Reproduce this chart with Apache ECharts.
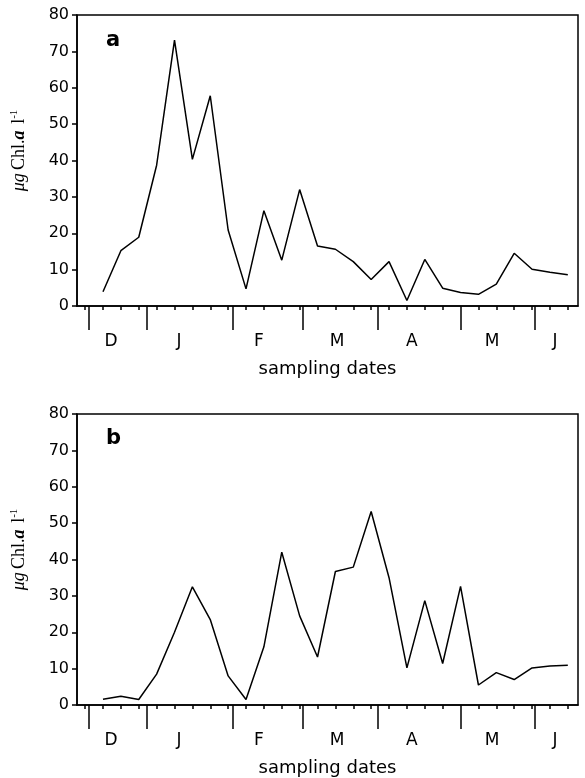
<!DOCTYPE html>
<html>
<head>
<meta charset="utf-8">
<script src="https://cdn.jsdelivr.net/npm/echarts@6/dist/echarts.min.js"></script>
<style>
html,body{margin:0;padding:0;background:#fff;}
#chart{width:585px;height:778px;}
</style>
</head>
<body>
<div id="chart"></div>
<script>
// sample index of each sampling date (evenly plotted)
var sampleIdx = [0,1,2,3,4,5,6,7,8,9,10,11,12,13,14,15,16,17,18,19,20,21,22,23,24,25,26];
// panel a chlorophyll a (µg/l)
var chlA = [3.9,15.2,18.9,38.7,73.1,40.3,57.8,20.9,4.7,26.2,12.6,32.0,16.5,15.6,12.2,7.3,12.2,1.5,12.8,4.9,3.7,3.2,6.0,14.5,10.1,9.3,8.6];
// panel b chlorophyll a (µg/l)
var chlB = [1.6,2.4,1.5,8.5,20.0,32.5,23.5,8.0,1.5,16.0,42.0,24.5,13.2,36.7,37.9,53.2,35.0,10.2,28.7,11.4,32.6,5.5,8.9,7.0,10.2,10.7,10.9];
// minor ticks (one per sampling date)
var minorTicks = [-1,0,1,2,3,4,5,6,7,8,9,10,11,12,13,14,15,16,17,18,19,20,21,22,23,24,25,26];
// month boundaries expressed in sample-index units
var monthBounds = [-0.78,2.46,7.27,11.19,15.38,20.02,24.16];
// month labels and their centres in sample-index units
var monthLabels = ['D','J','F','M','A','M','J'];
var monthCenters = [0.45,4.25,8.72,13.09,17.28,21.76,25.28];
var yTicks = [0,10,20,30,40,50,60,70,80];
var panelLabels = ['a','b'];

var xMin = -1.454, xMax = 26.57;
var FONT = 'DejaVu Sans';

function pairs(vals){ return sampleIdx.map(function(x,i){ return [x, vals[i]]; }); }

var grids = [
  {left:77, right:7, top:15, height:291, show:true, borderColor:'#000', borderWidth:1.5, backgroundColor:'transparent'},
  {left:77, right:7, top:414, height:292, show:true, borderColor:'#000', borderWidth:1.5, backgroundColor:'transparent'}
];

var xAxes = [], yAxes = [], series = [];
[chlA, chlB].forEach(function(vals, g){
  xAxes.push({
    gridIndex:g, type:'value', min:xMin, max:xMax, position:'bottom',
    axisLine:{show:true, onZero:false, lineStyle:{color:'#000', width:1.5}},
    axisTick:{show:true, inside:false, length:4, customValues:minorTicks, lineStyle:{color:'#000', width:1.5}},
    axisLabel:{show:false},
    splitLine:{show:false}
  });
  xAxes.push({
    gridIndex:g, type:'value', min:xMin, max:xMax, position:'bottom', offset:0,
    axisLine:{show:false, onZero:false},
    axisTick:{show:true, inside:false, length:24, customValues:monthBounds, lineStyle:{color:'#000', width:1.5}},
    axisLabel:{show:true, customValues:monthCenters, margin:27, fontFamily:FONT, fontSize:17, color:'#000',
      formatter:function(v){ var k = monthCenters.indexOf(v); return k>=0 ? monthLabels[k] : ''; }},
    splitLine:{show:false},
    name:'sampling dates', nameLocation:'middle', nameGap:54,
    nameTextStyle:{fontFamily:FONT, fontSize:18, color:'#000'}
  });
  yAxes.push({
    gridIndex:g, type:'value', min:0, max:80, interval:10,
    axisLine:{show:true, onZero:false, lineStyle:{color:'#000', width:1.5}},
    axisTick:{show:true, inside:false, length:5, lineStyle:{color:'#000', width:1.5}},
    axisLabel:{show:true, margin:8, fontFamily:FONT, fontSize:16, color:'#000',
      formatter:function(v){ return yTicks.indexOf(v)>=0 ? String(v) : ''; }},
    splitLine:{show:false},
    name:'{it|\u03bcg} {rm|Chl.}{ita|a}  {rm|l}{sup|-1}',
    nameLocation:'middle', nameGap:48, nameRotate:90,
    nameTextStyle:{
      padding:[0,0,0,20],
      rich:{
        it:{fontFamily:'Liberation Serif', fontStyle:'italic', fontSize:18, color:'#000', lineHeight:20},
        ita:{fontFamily:'Liberation Serif', fontStyle:'italic', fontWeight:'bold', fontSize:18, color:'#000', lineHeight:20},
        rm:{fontFamily:'Liberation Serif', fontSize:18, color:'#000', lineHeight:20},
        sup:{fontFamily:'Liberation Serif', fontSize:11, color:'#000', lineHeight:11, verticalAlign:'top'}
      }
    }
  });
  series.push({
    type:'line', xAxisIndex:g*2, yAxisIndex:g, data:pairs(vals),
    symbol:'none', lineStyle:{color:'#000', width:1.5}, silent:true
  });
});

var chart = echarts.init(document.getElementById('chart'), null, {renderer:'canvas'});
chart.setOption({
  animation:false,
  backgroundColor:'#fff',
  grid:grids,
  xAxis:xAxes,
  yAxis:yAxes,
  series:series,
  graphic:[
    {type:'text', left:106, top:30, style:{text:panelLabels[0], fontFamily:FONT, fontWeight:'bold', fontSize:21, fill:'#000'}},
    {type:'text', left:106, top:428, style:{text:panelLabels[1], fontFamily:FONT, fontWeight:'bold', fontSize:21, fill:'#000'}}
  ]
});
</script>
</body>
</html>
